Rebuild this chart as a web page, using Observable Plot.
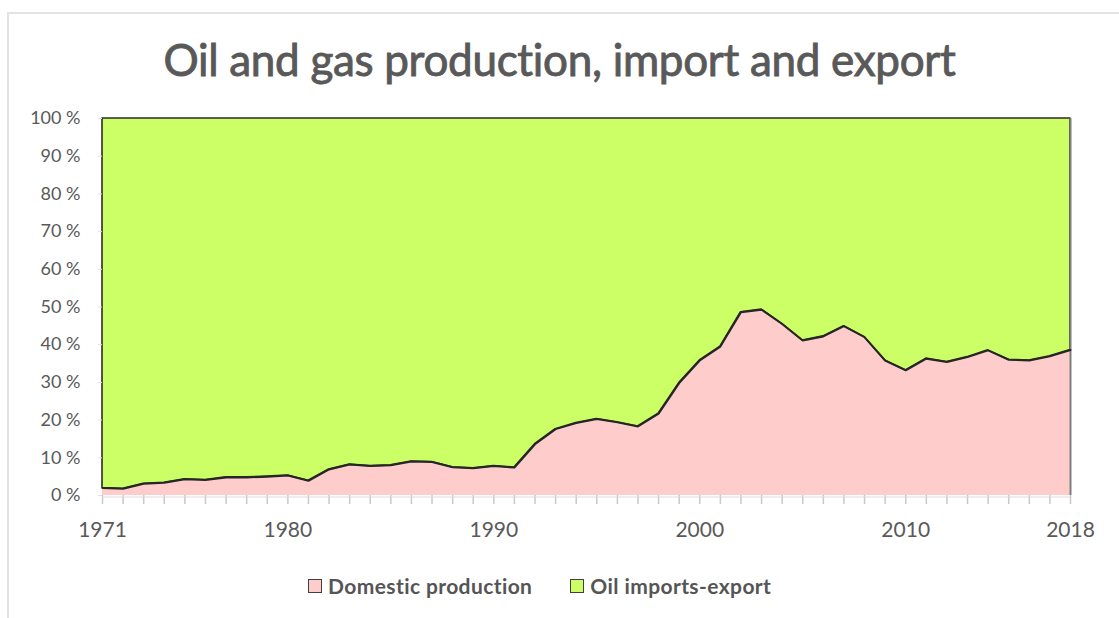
<!DOCTYPE html>
<html>
<head>
<meta charset="utf-8">
<script src="https://cdn.jsdelivr.net/npm/d3@7"></script>
<script src="https://cdn.jsdelivr.net/npm/@observablehq/plot@0.6"></script>
<style>
  html, body { margin: 0; padding: 0; background: #fff; }
  body { width: 1119px; height: 618px; overflow: hidden; position: relative; font-family: Lato, "Open Sans", sans-serif; }
  #frame { position: absolute; left: 7px; top: 12px; width: 1200px; height: 700px; border-top: 2px solid #e3e3e3; border-left: 2px solid #e3e3e3; }
  #title { position: absolute; left: 0; top: 33px; width: 1119px; text-align: center; font-size: 44px; color: #595959; font-weight: 400; letter-spacing: -0.3px; -webkit-text-stroke: 0.9px #595959; }
  #chart { position: absolute; left: 0; top: 100px; }
  #legend { position: absolute; left: 308px; top: 573px; display: flex; align-items: center; font-size: 21px; font-weight: 700; color: #555; letter-spacing: 0.4px; }
  .sw { width: 12px; height: 12px; border: 1.5px solid #404040; margin-right: 6px; }
  .item { display: flex; align-items: center; }
</style>
</head>
<body>
<div id="frame"></div>
<div id="title">Oil and gas production, import and export</div>
<div id="chart"></div>
<div id="legend"></div>
<script>
const years = [1971,1972,1973,1974,1975,1976,1977,1978,1979,1980,1981,1982,1983,1984,1985,1986,1987,1988,1989,1990,1991,1992,1993,1994,1995,1996,1997,1998,1999,2000,2001,2002,2003,2004,2005,2006,2007,2008,2009,2010,2011,2012,2013,2014,2015,2016,2017,2018];
const domesticShare = [2.0,1.8,3.1,3.4,4.3,4.1,4.8,4.8,5.0,5.3,3.9,6.9,8.2,7.8,8.0,9.0,8.9,7.5,7.2,7.8,7.4,13.6,17.6,19.2,20.3,19.4,18.3,21.7,29.8,35.8,39.5,48.6,49.3,45.5,41.1,42.2,44.9,42.0,35.8,33.2,36.3,35.4,36.7,38.5,36.0,35.8,36.9,38.6];
const seriesNames = ["Domestic production", "Oil imports-export"];
const seriesColors = ["#FFCCCC", "#CCFF66"];
const yTicks = [0,10,20,30,40,50,60,70,80,90,100];
const xLabelYears = [1971,1980,1990,2000,2010,2018];

const rows = years.map((y, i) => ({year: y, domestic: domesticShare[i], total: 100}));

const chart = Plot.plot({
  width: 1119,
  height: 445,
  marginLeft: 102,
  marginRight: 49,
  marginTop: 18,
  marginBottom: 50,
  style: {fontFamily: "Lato, 'Open Sans', sans-serif", color: "#595959", background: "transparent"},
  x: {domain: [1971, 2018], axis: null},
  y: {domain: [0, 100], axis: null},
  marks: [
    Plot.areaY(rows, {x: "year", y1: 0, y2: "domestic", fill: seriesColors[0]}),
    Plot.areaY(rows, {x: "year", y1: "domestic", y2: "total", fill: seriesColors[1], stroke: "#2b2b2b", strokeWidth: 1.6}),
    Plot.ruleX([2018], {y1: 0, y2: 100, stroke: "#7f7f7f", strokeWidth: 2}),
    Plot.lineY(rows, {x: "year", y: "domestic", stroke: "#262626", strokeWidth: 2}),
    Plot.axisY({ticks: yTicks, tickSize: 4, tickPadding: 18, stroke: "#e0e0e0", fill: "#595959", fontSize: 18, label: null, tickFormat: d => d + " %"}),
    Plot.axisX({ticks: years, tickSize: 9, label: null, tickFormat: () => "", stroke: "#c8c8c8", strokeWidth: 1.5}),
    Plot.ruleY([0], {stroke: "#dcdcdc", dy: 1.5}),
    Plot.axisX({ticks: xLabelYears, tickSize: 0, tickPadding: 27, label: null, fill: "#595959", fontSize: 21, tickFormat: d => String(d)})
  ]
});
document.getElementById("chart").appendChild(chart);

const legend = document.getElementById("legend");
seriesNames.forEach((name, i) => {
  const item = document.createElement("div");
  item.className = "item";
  if (i > 0) item.style.marginLeft = "38px";
  const sw = document.createElement("div");
  sw.className = "sw";
  sw.style.background = seriesColors[i];
  const t = document.createElement("span");
  t.textContent = name;
  item.appendChild(sw);
  item.appendChild(t);
  legend.appendChild(item);
});
</script>
</body>
</html>
